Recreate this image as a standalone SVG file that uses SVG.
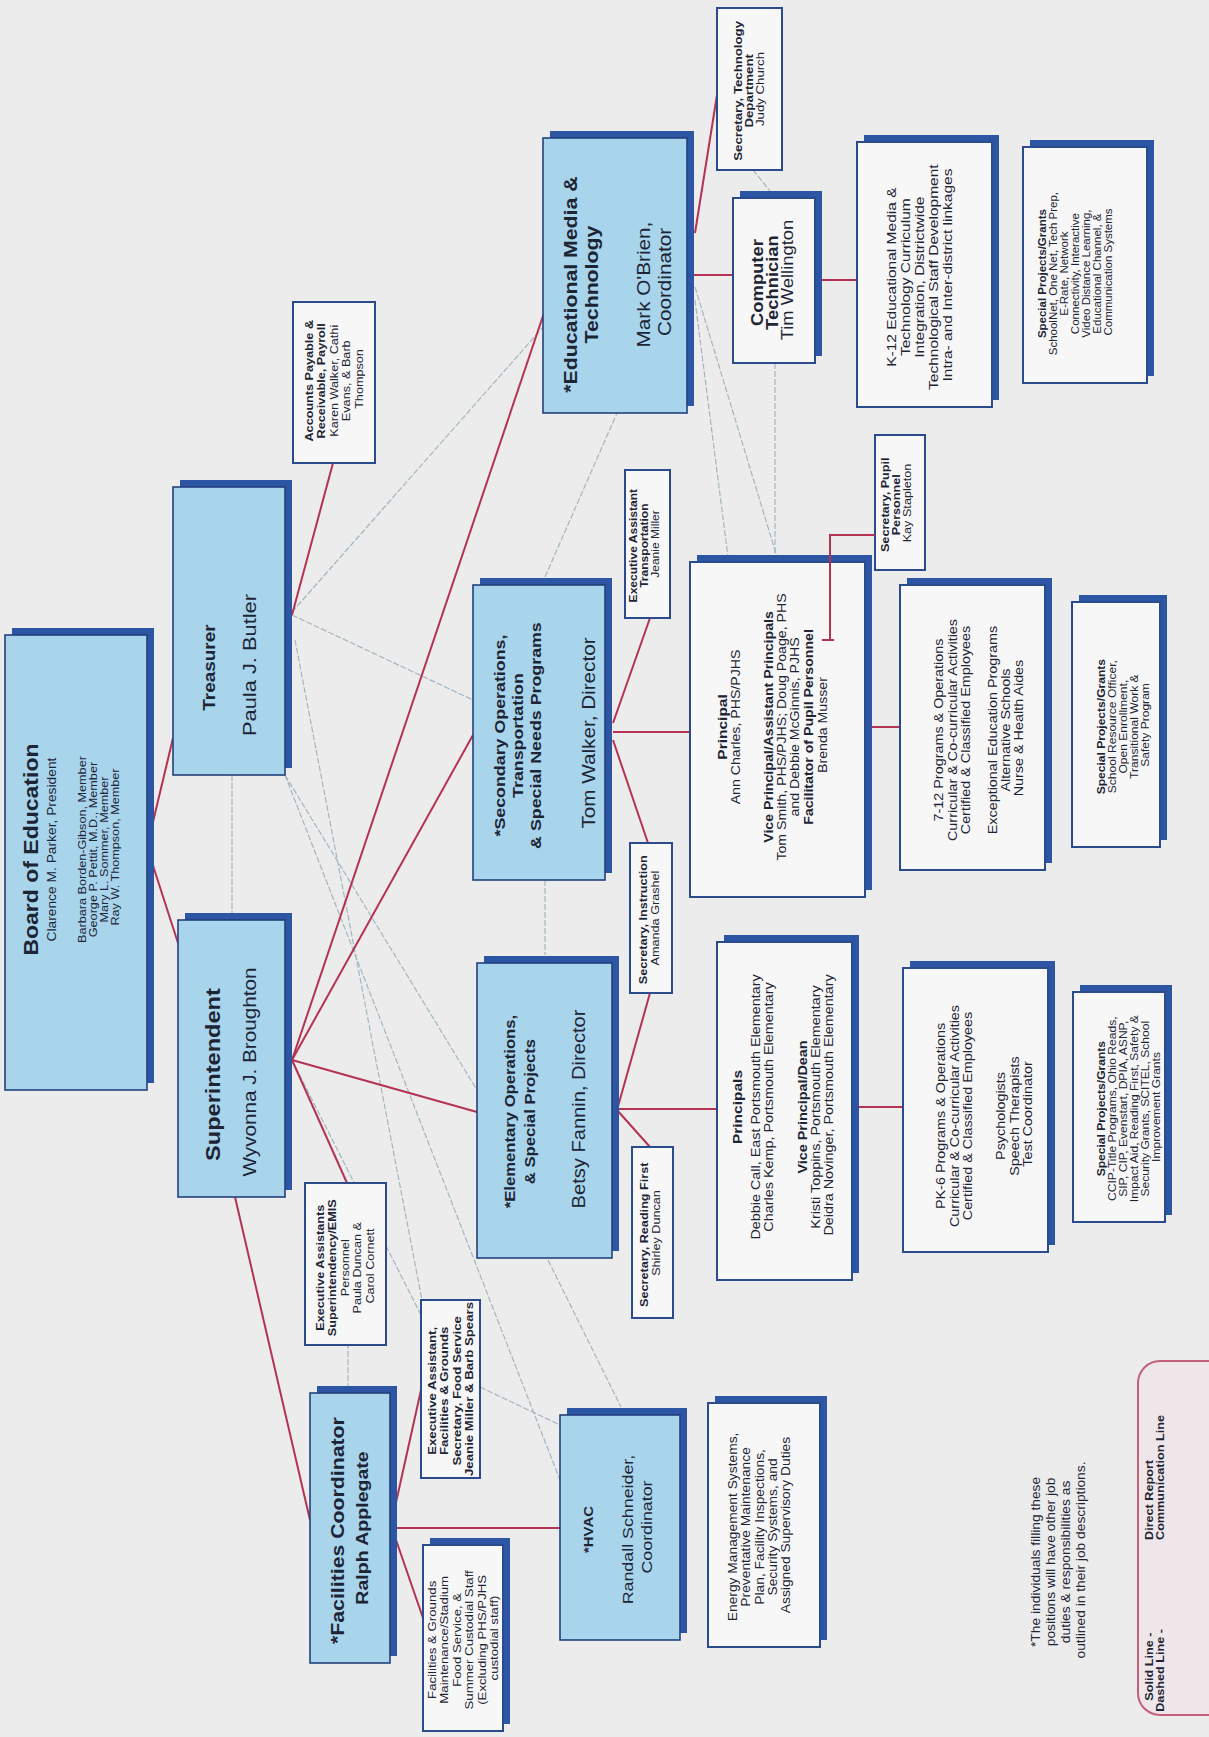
<svg xmlns="http://www.w3.org/2000/svg" width="1209" height="1737" viewBox="0 0 1209 1737">
<style>
.bg{fill:#ececec}
.nb{fill:#a8d4ec;stroke:#23407c;stroke-width:1.6}
.nw{fill:#f7f7f7;stroke:#2a4b8c;stroke-width:2}
.sh{fill:#2c55a3}
.r{stroke:#b43352;stroke-width:2;fill:none}
.g{stroke:#a3b6c2;stroke-width:1.2;fill:none;stroke-dasharray:6 2}
.t{font-family:"Liberation Sans",Arial,sans-serif;fill:#1d2535;text-anchor:middle}
.b{font-weight:bold}
.lg{fill:#efe6e9;stroke:#c2607a;stroke-width:2}
</style>
<rect class="bg" x="0" y="0" width="1209" height="1737"/>
<g transform="translate(0,1737) rotate(-90)">
<g id="connectors">
<path class="g" d="M1125,292 L1412,545"/>
<path class="g" d="M1122,292 L1037,473"/>
<path class="g" d="M1097,295 L437,422"/>
<path class="g" d="M962,285 L257,560"/>
<path class="g" d="M677,292 L422,421"/>
<path class="g" d="M962,285 L647,477"/>
<path class="g" d="M394,348 L350,348"/>
<path class="g" d="M350,480 L312,560"/>
<path class="g" d="M1450,695 L1180,777"/>
<path class="g" d="M1437,695 L1180,728"/>
<path class="g" d="M1567,753 L1542,773"/>
<path class="g" d="M1374,775 L1180,775"/>
<path class="g" d="M1160,545 L1324,617"/>
<path class="g" d="M962,232 L817,232"/>
<path class="g" d="M857,545 L782,545"/>
<path class="g" d="M477,548 L330,621"/>
<path class="r" d="M890,147 L999,173"/>
<path class="r" d="M890,147 L794,178"/>
<path class="r" d="M1122,292 L1274,333"/>
<path class="r" d="M677,292 L1427,545"/>
<path class="r" d="M677,292 L1002,473"/>
<path class="r" d="M677,292 L625,477"/>
<path class="r" d="M677,292 L554,347"/>
<path class="r" d="M540,235 L217,310"/>
<path class="r" d="M230,395 L347,421"/>
<path class="r" d="M209,395 L209,560"/>
<path class="r" d="M200,395 L119,423"/>
<path class="r" d="M627,617 L744,650"/>
<path class="r" d="M627,617 L590,650"/>
<path class="r" d="M628,617 L628,717"/>
<path class="r" d="M630,857 L630,903"/>
<path class="r" d="M1014,613 L1119,650"/>
<path class="r" d="M997,613 L894,648"/>
<path class="r" d="M1005,613 L1005,690"/>
<path class="r" d="M1010,870 L1010,900"/>
<path class="r" d="M1504,695 L1642,717"/>
<path class="r" d="M1462,694 L1462,733"/>
<path class="r" d="M1457,822 L1457,857"/>
</g>

<g id="board">
<rect class="sh" x="654" y="12" width="455" height="142"/>
<rect class="nb" x="647" y="5" width="455" height="142"/>
<text class="t" transform="translate(890 0) scale(1.15 1)">
<tspan x="0" y="38" class="b" font-size="20">Board of Education</tspan>
<tspan x="0" y="56" font-size="12">Clarence M. Parker, President</tspan>
<tspan x="0" y="86" font-size="11">Barbara Borden-Gibson, Member</tspan>
<tspan x="0" y="97" font-size="11">George P. Pettit, M.D., Member</tspan>
<tspan x="0" y="108" font-size="11">Mary L. Sommer, Member</tspan>
<tspan x="0" y="119" font-size="11">Ray W. Thompson, Member</tspan>
</text>
</g>

<g id="treasurer">
<rect class="sh" x="969" y="180" width="288" height="112"/>
<rect class="nb" x="962" y="173" width="288" height="112"/>
<text class="t" transform="translate(1072 0) scale(1.15 1)">
<tspan x="0" y="215" class="b" font-size="16.5">Treasurer</tspan>
<tspan x="0" y="256" font-size="19">Paula J. Butler</tspan>
</text>
</g>

<g id="accounts">
<rect class="nw" x="1274" y="293" width="161" height="82"/>
<text class="t" transform="translate(1358 0) scale(1.15 1)" font-size="11">
<tspan x="0" y="313" class="b">Accounts Payable &amp;</tspan>
<tspan x="0" y="325.5" class="b">Receivable, Payroll</tspan>
<tspan x="0" y="338">Karen Walker, Cathi</tspan>
<tspan x="0" y="350.5">Evans, &amp; Barb</tspan>
<tspan x="0" y="363">Thompson</tspan>
</text>
</g>

<g id="superintendent">
<rect class="sh" x="547" y="185" width="277" height="107"/>
<rect class="nb" x="540" y="178" width="277" height="107"/>
<text class="t" transform="translate(665 0) scale(1.15 1)">
<tspan x="0" y="220" class="b" font-size="20.5">Superintendent</tspan>
<tspan x="0" y="256" font-size="18">Wyvonna J. Broughton</tspan>
</text>
</g>

<g id="exec-supt">
<rect class="nw" x="392" y="305" width="162" height="81"/>
<text class="t" transform="translate(471 0) scale(1.15 1)" font-size="11">
<tspan x="0" y="324" class="b">Executive Assistants</tspan>
<tspan x="0" y="336.5" class="b">Superintendency/EMIS</tspan>
<tspan x="0" y="349">Personnel</tspan>
<tspan x="0" y="361.5">Paula Duncan &amp;</tspan>
<tspan x="0" y="374">Carol Cornett</tspan>
</text>
</g>

<g id="facilities">
<rect class="sh" x="81" y="317" width="270" height="80"/>
<rect class="nb" x="74" y="310" width="270" height="80"/>
<text class="t b" transform="translate(209 0) scale(1.15 1)">
<tspan x="0" y="344" font-size="18.5">*Facilities Coordinator</tspan>
<tspan x="0" y="368" font-size="17">Ralph Applegate</tspan>
</text>
</g>

<g id="exec-facilities">
<rect class="nw" x="259" y="421" width="178" height="59"/>
<text class="t b" transform="translate(348 0) scale(1.15 1)" font-size="11.5">
<tspan x="0" y="436">Executive Assistant,</tspan>
<tspan x="0" y="448.5">Facilities &amp; Grounds</tspan>
<tspan x="0" y="461">Secretary, Food Service</tspan>
<tspan x="0" y="473.5">Jeanie Miller &amp; Barb Spears</tspan>
</text>
</g>

<g id="facilities-grounds">
<rect class="sh" x="13" y="430" width="186" height="80"/>
<rect class="nw" x="6" y="423" width="186" height="80"/>
<text class="t" transform="translate(99 0) scale(1.15 1)" font-size="11.5">
<tspan x="0" y="436">Facilities &amp; Grounds</tspan>
<tspan x="0" y="448.5">Maintenance/Stadium</tspan>
<tspan x="0" y="461">Food Service, &amp;</tspan>
<tspan x="0" y="473.5">Summer Custodial Staff</tspan>
<tspan x="0" y="486">(Excluding PHS/PJHS</tspan>
<tspan x="0" y="498.5">custodial staff)</tspan>
</text>
</g>

<g id="hvac">
<rect class="sh" x="104" y="567" width="225" height="120"/>
<rect class="nb" x="97" y="560" width="225" height="120"/>
<text class="t" transform="translate(210 0) scale(1.15 1)">
<tspan x="0" y="593" class="b" font-size="13">*HVAC</tspan>
<tspan x="0" y="633" font-size="15.5">Randall Schneider,</tspan>
<tspan x="0" y="652" font-size="15.5">Coordinator</tspan>
</text>
</g>

<g id="energy">
<rect class="sh" x="97" y="715" width="244" height="112"/>
<rect class="nw" x="90" y="708" width="244" height="112"/>
<text class="t" transform="translate(212 0) scale(1.15 1)" font-size="12">
<tspan x="0" y="737">Energy Management Systems,</tspan>
<tspan x="0" y="750.3">Preventative Maintenance</tspan>
<tspan x="0" y="763.6">Plan, Facility Inspections,</tspan>
<tspan x="0" y="777">Security Systems, and</tspan>
<tspan x="0" y="790.3">Assigned Supervisory Duties</tspan>
</text>
</g>

<g id="elementary">
<rect class="sh" x="486" y="484" width="295" height="135"/>
<rect class="nb" x="479" y="477" width="295" height="135"/>
<text class="t" transform="translate(628 0) scale(1.15 1)">
<tspan x="0" y="515" class="b" font-size="14.5">*Elementary Operations,</tspan>
<tspan x="0" y="535" class="b" font-size="14.5">&amp; Special Projects</tspan>
<tspan x="0" y="585" font-size="17.5">Betsy Fannin, Director</tspan>
</text>
</g>

<g id="sec-reading">
<rect class="nw" x="419" y="632" width="171" height="41"/>
<text class="t" transform="translate(504 0) scale(1.15 1)" font-size="11">
<tspan x="0" y="648" class="b">Secretary, Reading First</tspan>
<tspan x="0" y="660">Shirley Duncan</tspan>
</text>
</g>

<g id="sec-instruction">
<rect class="nw" x="744" y="630" width="150" height="42"/>
<text class="t" transform="translate(819 0) scale(1.15 1)" font-size="11">
<tspan x="0" y="647" class="b">Secretary, Instruction</tspan>
<tspan x="0" y="659">Amanda Grashel</tspan>
</text>
</g>

<g id="secondary">
<rect class="sh" x="864" y="480" width="295" height="132"/>
<rect class="nb" x="857" y="473" width="295" height="132"/>
<text class="t" transform="translate(1004 0) scale(1.15 1)">
<tspan x="0" y="505" class="b" font-size="15.5">*Secondary Operations,</tspan>
<tspan x="0" y="523" class="b" font-size="15.5">Transportation</tspan>
<tspan x="0" y="541" class="b" font-size="15.5">&amp; Special Needs Programs</tspan>
<tspan x="0" y="595" font-size="18">Tom Walker, Director</tspan>
</text>
</g>

<g id="exec-transportation">
<rect class="nw" x="1119" y="625" width="148" height="45"/>
<text class="t" transform="translate(1193 0) scale(1.15 1)" font-size="10.5">
<tspan x="0" y="637" class="b">Executive Assistant</tspan>
<tspan x="0" y="648" class="b">Transportation</tspan>
<tspan x="0" y="659">Jeanie Miller</tspan>
</text>
</g>

<g id="edmedia">
<rect class="sh" x="1331" y="550" width="275" height="144"/>
<rect class="nb" x="1324" y="543" width="275" height="144"/>
<text class="t" transform="translate(1455 0) scale(1.15 1)">
<tspan x="0" y="577" class="b" font-size="18.5">*Educational Media &amp;</tspan>
<tspan x="0" y="598" class="b" font-size="18.5">Technology</tspan>
<tspan x="0" y="650" font-size="18">Mark O'Brien,</tspan>
<tspan x="0" y="671" font-size="18">Coordinator</tspan>
</text>
</g>

<g id="sec-tech">
<rect class="nw" x="1567" y="717" width="162" height="65"/>
<text class="t" transform="translate(1648 0) scale(1.15 1)" font-size="11.5">
<tspan x="0" y="742" class="b">Secretary, Technology</tspan>
<tspan x="0" y="753" class="b">Department</tspan>
<tspan x="0" y="764">Judy Church</tspan>
</text>
</g>

<g id="comp-tech">
<rect class="sh" x="1381" y="740" width="165" height="82"/>
<rect class="nw" x="1374" y="733" width="165" height="82"/>
<text class="t" transform="translate(1457 0) scale(1.15 1)" font-size="16">
<tspan x="0" y="763" class="b">Computer</tspan>
<tspan x="0" y="778" class="b">Technician</tspan>
<tspan x="0" y="793">Tim Wellington</tspan>
</text>
</g>

<g id="k12">
<rect class="sh" x="1337" y="864" width="265" height="135"/>
<rect class="nw" x="1330" y="857" width="265" height="135"/>
<text class="t" transform="translate(1462 0) scale(1.15 1)" font-size="13.5">
<tspan x="0" y="896">K-12 Educational Media &amp;</tspan>
<tspan x="0" y="910">Technology Curriculum</tspan>
<tspan x="0" y="924">Integration, Districtwide</tspan>
<tspan x="0" y="938">Technological Staff Development</tspan>
<tspan x="0" y="952">Intra- and Inter-district linkages</tspan>
</text>
</g>

<g id="spec-tech">
<rect class="sh" x="1361" y="1030" width="236" height="124"/>
<rect class="nw" x="1354" y="1023" width="236" height="124"/>
<text class="t" transform="translate(1465 0) scale(1.15 1)" font-size="10">
<tspan x="0" y="1046" class="b">Special Projects/Grants</tspan>
<tspan x="0" y="1057">SchoolNet, One Net, Tech Prep,</tspan>
<tspan x="0" y="1068">E-Rate, Network</tspan>
<tspan x="0" y="1079">Connectivity, Interactive</tspan>
<tspan x="0" y="1090">Video Distance Learning,</tspan>
<tspan x="0" y="1101">Educational Channel, &amp;</tspan>
<tspan x="0" y="1112">Communication Systems</tspan>
</text>
</g>

<g id="principal">
<rect class="sh" x="847" y="697" width="335" height="175"/>
<rect class="nw" x="840" y="690" width="335" height="175"/>
<text class="t" transform="translate(1012 0) scale(1.15 1)" font-size="12.3">
<tspan x="0" y="727" class="b" font-size="13.5">Principal</tspan>
<tspan x="0" y="740">Ann Charles, PHS/PJHS</tspan>
<tspan x="0" y="773" class="b">Vice Principal/Assistant Principals</tspan>
<tspan x="0" y="786">Tom Smith, PHS/PJHS; Doug Poage, PHS</tspan>
<tspan x="0" y="799">and Debbie McGinnis, PJHS</tspan>
<tspan x="0" y="813" class="b">Facilitator of Pupil Personnel</tspan>
<tspan x="0" y="827">Brenda Musser</tspan>
</text>
</g>

<g id="sec-pupil">
<rect class="nw" x="1167" y="875" width="135" height="50"/>
<text class="t" transform="translate(1234 0) scale(1.15 1)" font-size="11">
<tspan x="0" y="889" class="b">Secretary, Pupil</tspan>
<tspan x="0" y="900" class="b">Personnel</tspan>
<tspan x="0" y="911">Kay Stapleton</tspan>
</text>
</g>

<g id="programs-7-12">
<rect class="sh" x="874" y="907" width="285" height="145"/>
<rect class="nw" x="867" y="900" width="285" height="145"/>
<text class="t" transform="translate(1009 0) scale(1.15 1)" font-size="12.5">
<tspan x="0" y="943">7-12 Programs &amp; Operations</tspan>
<tspan x="0" y="957">Curricular &amp; Co-curricular Activities</tspan>
<tspan x="0" y="970">Certified &amp; Classified Employees</tspan>
<tspan x="0" y="997">Exceptional Education Programs</tspan>
<tspan x="0" y="1010">Alternative Schools</tspan>
<tspan x="0" y="1023">Nurse &amp; Health Aides</tspan>
</text>
</g>

<g id="spec-secondary">
<rect class="sh" x="897" y="1079" width="245" height="88"/>
<rect class="nw" x="890" y="1072" width="245" height="88"/>
<text class="t" transform="translate(1012 0) scale(1.15 1)" font-size="10.5">
<tspan x="0" y="1105" class="b">Special Projects/Grants</tspan>
<tspan x="0" y="1116">School Resource Officer,</tspan>
<tspan x="0" y="1127">Open Enrollment,</tspan>
<tspan x="0" y="1138">Transitional Work &amp;</tspan>
<tspan x="0" y="1149">Safety Program</tspan>
</text>
</g>

<g id="principals-elem">
<rect class="sh" x="464" y="724" width="338" height="135"/>
<rect class="nw" x="457" y="717" width="338" height="135"/>
<text class="t" transform="translate(632 0) scale(1.15 1)" font-size="12.5">
<tspan x="0" y="742" class="b" font-size="13.5">Principals</tspan>
<tspan x="0" y="760">Debbie Call, East Portsmouth Elementary</tspan>
<tspan x="0" y="773">Charles Kemp, Portsmouth Elementary</tspan>
<tspan x="0" y="807" class="b">Vice Principal/Dean</tspan>
<tspan x="0" y="820">Kristi Toppins, Portsmouth Elementary</tspan>
<tspan x="0" y="833">Deidra Novinger, Portsmouth Elementary</tspan>
</text>
</g>

<g id="pk6">
<rect class="sh" x="492" y="910" width="284" height="145"/>
<rect class="nw" x="485" y="903" width="284" height="145"/>
<text class="t" transform="translate(623 0) scale(1.15 1)" font-size="12.5">
<tspan x="0" y="945">PK-6 Programs &amp; Operations</tspan>
<tspan x="0" y="959">Curricular &amp; Co-curricular Activities</tspan>
<tspan x="0" y="972">Certified &amp; Classified Employees</tspan>
<tspan x="0" y="1005">Psychologists</tspan>
<tspan x="0" y="1019">Speech Therapists</tspan>
<tspan x="0" y="1032">Test Coordinator</tspan>
</text>
</g>

<g id="spec-elem">
<rect class="sh" x="522" y="1080" width="230" height="92"/>
<rect class="nw" x="515" y="1073" width="230" height="92"/>
<text class="t" transform="translate(630 0) scale(1.15 1)" font-size="10.5">
<tspan x="0" y="1105" class="b">Special Projects/Grants</tspan>
<tspan x="0" y="1116">CCIP-Title Programs, Ohio Reads,</tspan>
<tspan x="0" y="1127">SIP, CIP, Evenstart, DPIA, ASNP,</tspan>
<tspan x="0" y="1138">Impact Aid, Reading First, Safety &amp;</tspan>
<tspan x="0" y="1149">Security Grants, SCITEL, School</tspan>
<tspan x="0" y="1160">Improvement Grants</tspan>
</text>
</g>

<g id="connectors-over">
<path class="r" d="M1097,822 L1097,834 M1097,830 L1202,830 L1202,875"/>
</g>

<g id="footnote">
<text class="t" transform="translate(177 0) scale(1.15 1)" font-size="12">
<tspan x="0" y="1040">*The individuals filling these</tspan>
<tspan x="0" y="1055">positions will have other job</tspan>
<tspan x="0" y="1070">duties &amp; responsibilities as</tspan>
<tspan x="0" y="1085">outlined in their job descriptions.</tspan>
</text>
</g>

<g id="legend">
<rect class="lg" x="22" y="1138" width="354" height="120" rx="22"/>
<text class="t b" transform="translate(108 0) scale(1.15 1)" font-size="11" text-anchor="end" style="text-anchor:end">
<tspan x="0" y="1153">Solid Line -</tspan>
<tspan x="0" y="1164">Dashed Line -</tspan>
</text>
<text class="t b" transform="translate(197 0) scale(1.15 1)" font-size="11" style="text-anchor:start">
<tspan x="0" y="1153">Direct Report</tspan>
<tspan x="0" y="1164">Communication Line</tspan>
</text>
</g>
</g>
</svg>
